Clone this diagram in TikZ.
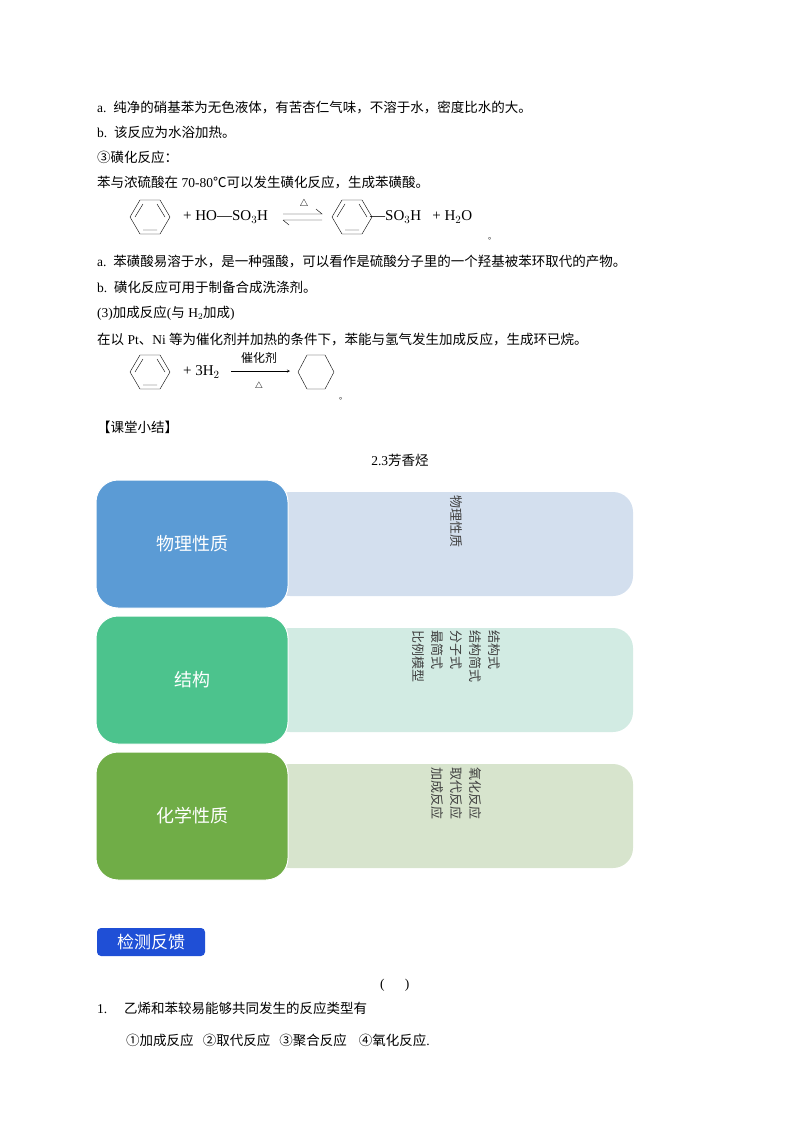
\documentclass[tikz,border=0pt]{standalone}
\usepackage{fontspec}
\setmainfont{Liberation Serif}
\newfontfamily\cjk{Noto Sans CJK SC}
\begin{document}
\begin{tikzpicture}[x=1pt,y=-1pt,
  txt/.style={anchor=west,inner sep=0pt,font=\fontsize{13.5}{16}\selectfont},
  chem/.style={inner sep=0pt,font=\fontsize{15}{17}\selectfont},
  lbox/.style={rounded corners=22pt,draw=white,line width=1pt},
  rbox/.style={rounded corners=20pt},
  vtxt/.style={rotate=-90,anchor=north west,inner sep=0pt,align=left,font=\cjk\fontsize{13}{19}\selectfont,text=black!75}]
\useasboundingbox (0,0) rectangle (800,1132);
\definecolor{cb}{HTML}{5B9BD5}\definecolor{cg}{HTML}{4CC38D}\definecolor{cd}{HTML}{70AD47}
\definecolor{lb}{HTML}{D3DFEE}\definecolor{lg}{HTML}{D2EBE3}\definecolor{ld}{HTML}{D7E4CD}
\definecolor{btnc}{HTML}{1F4FD6}
\node[txt] (t1) at (97,107) {a.\ \ {\cjk 纯净的硝基苯为无色液体，有苦杏仁气味，不溶于水，密度比水的大。}};
\node[txt] (t2) at (97,132) {b.\ \ {\cjk 该反应为水浴加热。}};
\node[txt] (t3) at (97,157) {{\cjk ③磺化反应：}};
\node[txt] (t4) at (97,182) {{\cjk 苯与浓硫酸在} 70-80{\cjk ℃可以发生磺化反应，生成苯磺酸。}};
\foreach \px/\py in {150/217,352/217,150/372}{
  \begin{scope}[shift={(\px,\py)}]
  \draw (-20,0)--(-10,-17)--(10,-17)--(20,0)--(10,17)--(-10,17)--cycle;
  \draw (-15,0)--(-7,-13) (7,-13)--(15,0) (-7,13)--(7,13);
  \end{scope}}
\node[chem,anchor=west] (hs) at (183,217) {+ HO---SO$_3$H};
\draw (283,214)--(322,214)--(316,209);
\draw (283,220)--(322,220) (283,220)--(289,225);
\node[chem] (d1) at (304,204) {\fontsize{10}{12}\selectfont$\triangle$};
\node[chem,anchor=west] (so) at (370,217) {---SO$_3$H \ \ + H$_2$O};
\node[chem] at (492,239) {\fontsize{8}{8}\selectfont{\cjk 。}};
\node[txt] (t5) at (97,262) {a.\ \ {\cjk 苯磺酸易溶于水，是一种强酸，可以看作是硫酸分子里的一个羟基被苯环取代的产物。}};
\node[txt] (t6) at (97,287) {b.\ \ {\cjk 磺化反应可用于制备合成洗涤剂。}};
\node[txt] (t7) at (97,313) {(3){\cjk 加成反应}({\cjk 与} H$_2${\cjk 加成})};
\node[txt] (t8) at (97,339) {{\cjk 在以} Pt{\cjk 、}Ni {\cjk 等为催化剂并加热的条件下，苯能与氢气发生加成反应，生成环已烷。}};
\node[chem,anchor=west] (h2) at (183,372) {+ 3H$_2$};
\draw[-stealth] (231,371)--(290,371);
\node[chem] at (259,358) {\fontsize{12}{12}\selectfont\cjk 催化剂};
\node[chem] at (259,386) {\fontsize{9}{10}\selectfont$\triangle$};
\draw (258,343)--(260,343);
\draw (298,372)--(307,355)--(325,355)--(334,372)--(325,389)--(307,389)--cycle;
\node[chem] at (343,399) {\fontsize{8}{8}\selectfont{\cjk 。}};
\node[txt] (t9) at (97,427) {{\cjk 【课堂小结】}};
\node[inner sep=0pt,font=\fontsize{13.5}{16}\selectfont] (ttl) at (400,460) {2.3{\cjk 芳香烃}};
\fill[lb,rbox] (270,492) rectangle (633,596);
\fill[lg,rbox] (270,628) rectangle (633,732);
\fill[ld,rbox] (270,764) rectangle (633,868);
\node[lbox,fill=cb,minimum width=192pt,minimum height=128pt] (b1) at (192,544) {};
\node[lbox,fill=cg,minimum width=192pt,minimum height=128pt] (b2) at (192,680) {};
\node[lbox,fill=cd,minimum width=192pt,minimum height=128pt] (b3) at (192,816) {};
\foreach \b/\t in {b1/物理性质,b2/结构,b3/化学性质}
  \node[text=white,font=\cjk\fontsize{18}{20}\selectfont] at (\b) {\t};
\node[vtxt] (v1) at (463,495) {物理性质};
\node[vtxt] (v2) at (501,630) {结构式\\结构简式\\分子式\\最简式\\比例模型};
\node[vtxt] (v3) at (482,767) {氧化反应\\取代反应\\加成反应};
\node[fill=btnc,rounded corners=4pt,text=white,font=\cjk\fontsize{17}{18}\selectfont,minimum width=108pt,minimum height=28pt] (btn) at (151,942) {检测反馈};
\node[txt] (q1) at (97,1008) {1.\ \ \ \ \ {\cjk 乙烯和苯较易能够共同发生的反应类型有}};
\node[txt] (par) at (380,985) {(\ \ \ \ \ \ )};
\node[txt] (opt) at (126,1040) {{\cjk ①加成反应\ \ \ ②取代反应\ \ \ ③聚合反应\ \ \ \ ④氧化反应}.};
\end{tikzpicture}
\end{document}
